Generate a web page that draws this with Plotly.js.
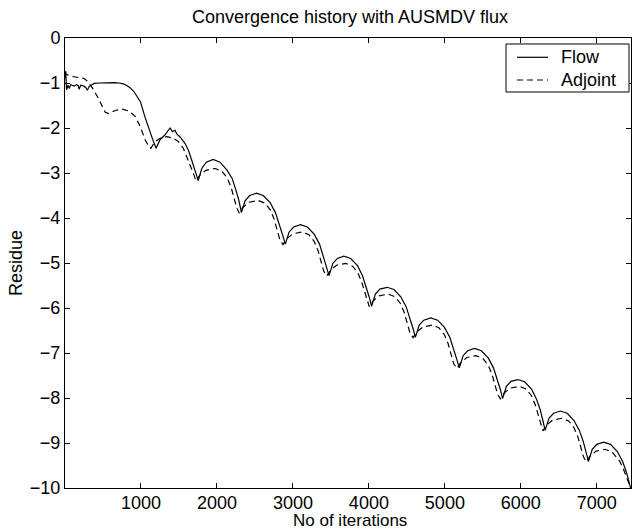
<!DOCTYPE html>
<html>
<head>
<meta charset="utf-8">
<script src="https://cdn.plot.ly/plotly-3.0.1.min.js"></script>
<style>html,body{margin:0;padding:0;background:#fff;}#chart{width:632px;height:531px;}</style>
</head>
<body>
<div id="chart"></div>
<script>
// Flow residue history (iterations, log10 residue)
var flowIter = [0, 10, 20, 40, 55, 76, 120, 150, 175, 186, 207, 250, 273, 295, 317, 350, 383, 448, 550, 650, 710, 770, 819, 860, 907, 950, 994, 1055, 1121, 1160, 1199,
  1251, 1317, 1361, 1383, 1413, 1448, 1470, 1514, 1579, 1623, 1667, 1710, 1754,
  1800, 1860, 1950, 2040, 2130, 2200, 2250, 2290, 2322,
  2370, 2430, 2520, 2610, 2700, 2770, 2820, 2865, 2900,
  2950, 3010, 3100, 3190, 3280, 3350, 3400, 3440, 3475,
  3525, 3585, 3670, 3760, 3850, 3915, 3965, 4005, 4035,
  4085, 4145, 4240, 4330, 4420, 4490, 4540, 4580, 4612,
  4662, 4722, 4815, 4905, 4995, 5065, 5115, 5155, 5190,
  5240, 5300, 5390, 5480, 5570, 5640, 5690, 5730, 5760,
  5810, 5870, 5960, 6050, 6140, 6205, 6255, 6290, 6320,
  6370, 6430, 6520, 6610, 6700, 6770, 6820, 6860, 6890,
  6940, 7000, 7090, 7180, 7270, 7340, 7390, 7430, 7460];
var flowRes = [-0.90, -0.74, -1.15, -1.05, -1.12, -1.04, -1.07, -1.04, -1.06, -1.14, -1.05, -1.07, -1.10, -1.16, -1.08, -1.04, -1.01, -1.00, -0.99, -0.99, -1.00, -1.02, -1.06, -1.11, -1.19, -1.30, -1.42, -1.77, -2.11, -2.28, -2.45,
  -2.26, -2.15, -2.04, -2.00, -2.08, -2.05, -2.13, -2.20, -2.34, -2.49, -2.71, -2.96, -3.17,
  -2.90, -2.76, -2.70, -2.76, -2.93, -3.12, -3.38, -3.62, -3.88,
  -3.62, -3.50, -3.45, -3.50, -3.66, -3.88, -4.12, -4.38, -4.58,
  -4.31, -4.20, -4.15, -4.20, -4.36, -4.58, -4.83, -5.08, -5.28,
  -5.01, -4.90, -4.85, -4.90, -5.06, -5.28, -5.52, -5.76, -5.96,
  -5.69, -5.58, -5.54, -5.59, -5.75, -5.97, -6.21, -6.45, -6.65,
  -6.38, -6.27, -6.22, -6.27, -6.43, -6.65, -6.89, -7.13, -7.33,
  -7.06, -6.95, -6.90, -6.95, -7.11, -7.33, -7.57, -7.81, -8.01,
  -7.74, -7.63, -7.59, -7.64, -7.80, -8.02, -8.26, -8.50, -8.72,
  -8.45, -8.34, -8.29, -8.34, -8.50, -8.72, -8.96, -9.20, -9.41,
  -9.14, -9.03, -8.98, -9.03, -9.19, -9.41, -9.65, -9.89, -10.10];

// Adjoint residue history
var adjIter = [0, 10, 76, 164, 252, 295, 360, 426, 491, 530, 574, 662, 750, 836, 924, 990, 1055, 1100, 1130,
  1186, 1252, 1339, 1426, 1491, 1557, 1623, 1688, 1725,
  1775, 1855, 1975, 2065, 2135, 2185, 2225, 2260, 2292,
  2342, 2422, 2542, 2632, 2702, 2752, 2792, 2827, 2870,
  2920, 3000, 3120, 3210, 3280, 3330, 3370, 3405, 3445,
  3495, 3575, 3695, 3785, 3855, 3905, 3945, 3980, 4005,
  4055, 4135, 4255, 4345, 4415, 4465, 4505, 4540, 4582,
  4632, 4712, 4832, 4922, 4992, 5042, 5082, 5117, 5160,
  5210, 5290, 5410, 5500, 5570, 5620, 5660, 5695, 5730,
  5780, 5860, 5980, 6070, 6140, 6190, 6230, 6262, 6290,
  6340, 6420, 6540, 6630, 6700, 6750, 6790, 6825, 6860,
  6910, 6990, 7110, 7200, 7300, 7350, 7400, 7440];
var adjRes = [-0.74, -0.80, -0.85, -0.87, -0.90, -0.96, -1.11, -1.30, -1.52, -1.65, -1.68, -1.61, -1.58, -1.62, -1.74, -1.97, -2.26, -2.40, -2.45,
  -2.30, -2.23, -2.19, -2.23, -2.30, -2.45, -2.71, -3.00, -3.18,
  -3.05, -2.94, -2.90, -2.96, -3.11, -3.31, -3.55, -3.77, -3.89,
  -3.76, -3.65, -3.61, -3.67, -3.82, -4.02, -4.26, -4.48, -4.59,
  -4.46, -4.35, -4.31, -4.37, -4.52, -4.72, -4.96, -5.18, -5.29,
  -5.16, -5.05, -5.01, -5.07, -5.22, -5.42, -5.66, -5.87, -5.97,
  -5.84, -5.73, -5.69, -5.75, -5.90, -6.10, -6.34, -6.55, -6.66,
  -6.53, -6.42, -6.38, -6.44, -6.59, -6.79, -7.03, -7.24, -7.34,
  -7.21, -7.10, -7.06, -7.12, -7.27, -7.47, -7.71, -7.92, -8.02,
  -7.89, -7.78, -7.74, -7.80, -7.95, -8.15, -8.39, -8.61, -8.73,
  -8.60, -8.49, -8.45, -8.51, -8.66, -8.86, -9.10, -9.31, -9.42,
  -9.29, -9.18, -9.14, -9.20, -9.40, -9.58, -9.80, -9.97];

var seriesNames = ['Flow', 'Adjoint'];
var xTicks = [1000, 2000, 3000, 4000, 5000, 6000, 7000];
var yTicks = [0, -1, -2, -3, -4, -5, -6, -7, -8, -9, -10];

var FONT = '"Liberation Sans", Arial, Helvetica, sans-serif';
var BLACK = '#000';

var traces = [
  {x: flowIter, y: flowRes, name: seriesNames[0], type: 'scatter', mode: 'lines',
   line: {color: BLACK, width: 1.2}, showlegend: false},
  {x: adjIter, y: adjRes, name: seriesNames[1], type: 'scatter', mode: 'lines',
   line: {color: BLACK, width: 1.2, dash: '6px,4px'}, showlegend: false}
];

var axisCommon = {
  showgrid: false, zeroline: false, showline: true, linecolor: BLACK, linewidth: 1,
  mirror: 'ticks', ticks: 'inside', ticklen: 5, tickwidth: 1, tickcolor: BLACK,
  tickfont: {family: FONT, size: 18, color: BLACK}
};

// MATLAB-style boxed legend (box, line samples, labels) in paper coordinates
var legBox = {x0: 0.7792, x1: 0.9965, y0: 0.880, y1: 0.9867};
var legRows = [0.9571, 0.9067];
var sampleX = [0.7986, 0.8534];
var labelX = 0.8730;

var shapes = [
  {type: 'rect', xref: 'paper', yref: 'paper', x0: legBox.x0, x1: legBox.x1, y0: legBox.y0, y1: legBox.y1,
   line: {color: BLACK, width: 1}, fillcolor: '#fff', layer: 'above'},
  {type: 'line', xref: 'paper', yref: 'paper', x0: sampleX[0], x1: sampleX[1], y0: legRows[0], y1: legRows[0],
   line: {color: BLACK, width: 1.2}, layer: 'above'},
  {type: 'line', xref: 'paper', yref: 'paper', x0: sampleX[0], x1: sampleX[1], y0: legRows[1], y1: legRows[1],
   line: {color: BLACK, width: 1.2, dash: '6px,4px'}, layer: 'above'}
];

var annotations = [
  {text: seriesNames[0], xref: 'paper', yref: 'paper', x: labelX, y: legRows[0], xanchor: 'left', yanchor: 'middle',
   showarrow: false, font: {family: FONT, size: 18, color: BLACK}},
  {text: seriesNames[1], xref: 'paper', yref: 'paper', x: labelX, y: legRows[1], xanchor: 'left', yanchor: 'middle',
   showarrow: false, font: {family: FONT, size: 18, color: BLACK}},
  {text: 'No of iterations', xref: 'paper', yref: 'paper', x: 0.5035, y: -0.0722, xanchor: 'center', yanchor: 'middle',
   showarrow: false, borderpad: 0, font: {family: FONT, size: 17, color: BLACK}},
  {text: 'Residue', xref: 'paper', yref: 'paper', x: -0.0866, y: 0.5, xanchor: 'center', yanchor: 'middle',
   textangle: -90, showarrow: false, font: {family: FONT, size: 18, color: BLACK}}
];

var layout = {
  width: 632, height: 531,
  margin: {l: 65, r: 1, t: 38, b: 43},
  paper_bgcolor: '#fff', plot_bgcolor: '#fff',
  font: {family: FONT, size: 18, color: BLACK},
  title: {text: 'Convergence history with AUSMDV flux', font: {family: FONT, size: 18, color: BLACK},
          x: 0.5538, xanchor: 'center', y: 0.968, yref: 'container', yanchor: 'middle'},
  xaxis: Object.assign({}, axisCommon, {
    range: [0, 7450], tickmode: 'array', tickvals: xTicks, ticktext: xTicks.map(String), ticklabelstandoff: -2
  }),
  yaxis: Object.assign({}, axisCommon, {
    range: [-10, 0], tickmode: 'array', tickvals: yTicks
  }),
  showlegend: false,
  shapes: shapes,
  annotations: annotations
};

Plotly.newPlot('chart', traces, layout, {displayModeBar: false, staticPlot: true});
</script>
</body>
</html>
